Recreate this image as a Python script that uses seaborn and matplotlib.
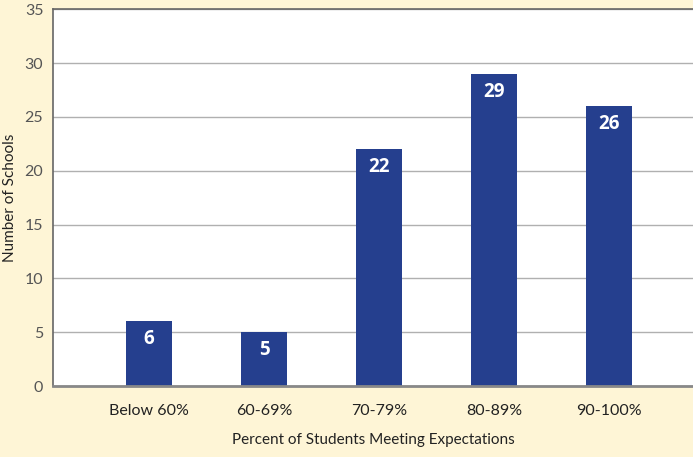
import matplotlib
matplotlib.use("Agg")
import matplotlib.pyplot as plt
import seaborn as sns
import pandas as pd

categories = ["Below 60%", "60-69%", "70-79%", "80-89%", "90-100%"]
schools = [6, 5, 22, 29, 26]
y_ticks = [0, 5, 10, 15, 20, 25, 30, 35]

bg = "#FEF5D6"
bar_color = "#253F8E"

sns.set_theme(style="white")
plt.rcParams["font.family"] = ["Lato", "DejaVu Sans"]

df = pd.DataFrame({"range": categories, "count": schools})

fig = plt.figure(figsize=(6.93, 4.57), dpi=100, facecolor=bg)
ax = fig.add_axes([53 / 693, 71 / 457, 1 - 53 / 693, (386 - 9.4) / 457])
ax.set_facecolor("white")

sns.barplot(data=df, x="range", y="count", color=bar_color, width=0.4,
            saturation=1, linewidth=0, ax=ax, zorder=3)

for i, v in enumerate(schools):
    ax.text(i, v - 1.65, str(v), ha="center", va="center", color="white",
            fontsize=13.5, fontweight="bold", family=["Open Sans", "DejaVu Sans"],
            zorder=4)

ax.set_ylim(0, 35)
ax.set_xlim(-0.835, 4.73)
ax.set_yticks(y_ticks)
ax.yaxis.grid(True, color="#B0B0B0", linewidth=1, zorder=0)
ax.tick_params(axis="y", length=0, pad=7, labelsize=11.5, labelcolor="#555555")
ax.tick_params(axis="x", length=0, pad=13, labelsize=11.5, labelcolor="#222222")

for s in ["top", "left"]:
    ax.spines[s].set_color("#666666")
    ax.spines[s].set_linewidth(1.2)
ax.spines["right"].set_visible(False)
ax.spines["bottom"].set_color("#888888")
ax.spines["bottom"].set_linewidth(2)
ax.spines["bottom"].set_zorder(5)

ax.set_xlabel("Percent of Students Meeting Expectations", fontsize=11,
              color="#222222", labelpad=11)
ax.set_ylabel("Number of Schools", fontsize=11, color="#222222")
ax.yaxis.set_label_coords((17 - 53) / 640, 0.5)

fig.savefig("out.png", dpi=100, facecolor=bg)
